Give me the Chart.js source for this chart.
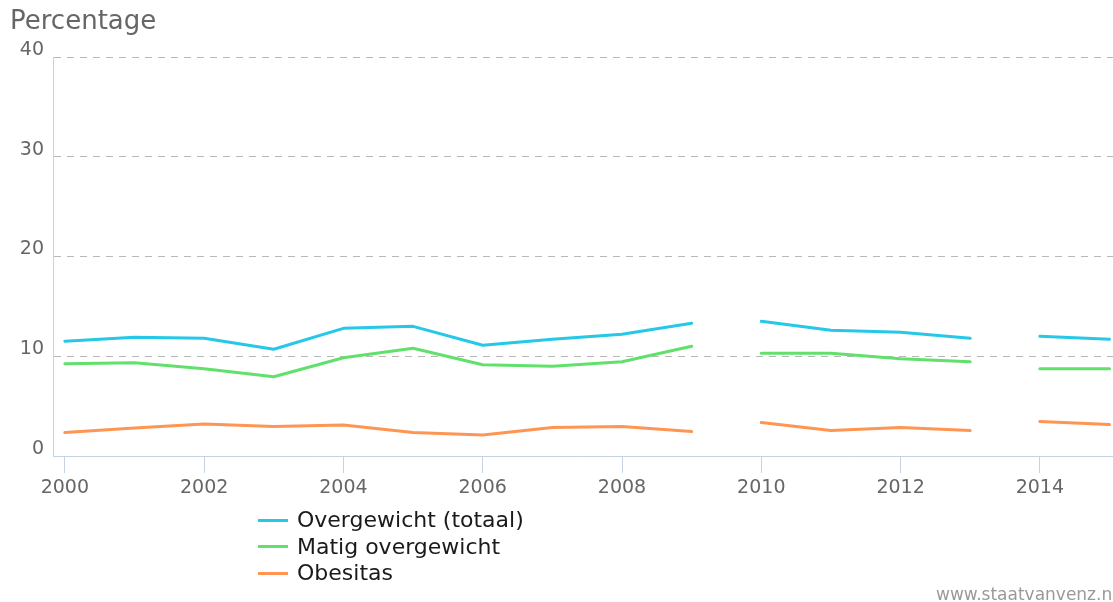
<!DOCTYPE html>
<html>
<head>
<meta charset="utf-8">
<script src="https://cdn.jsdelivr.net/npm/chart.js@4/dist/chart.umd.min.js"></script>
<style>
  html, body { margin: 0; padding: 0; background: #fff; overflow: hidden; }
  body { width: 1113px; height: 602px; position: relative; font-family: "DejaVu Sans", Verdana, sans-serif; }
  #wrap { position: absolute; left: 0; top: 0; width: 1113px; height: 602px; }
  #title { position: absolute; left: 10px; top: 4px; font-size: 26px; line-height: 32px; color: #666; }
  #legend { position: absolute; left: 258px; top: 507px; font-size: 22px; color: #1a1a1a; }
  #legend div { height: 26.5px; line-height: 26.5px; white-space: nowrap; }
  #legend span { display: inline-block; width: 30px; height: 3px; margin-right: 9px; vertical-align: middle; position: relative; top: -1px; }
  #credit { position: absolute; left: 936px; top: 584px; font-size: 17px; line-height: 20px; color: #999; white-space: nowrap; }
</style>
</head>
<body>
<div id="wrap"><canvas id="chart" width="1113" height="602"></canvas></div>
<div id="title">Percentage</div>
<div id="legend"></div>
<div id="credit">www.staatvanvenz.nl</div>
<script>
const years = [2000, 2001, 2002, 2003, 2004, 2005, 2006, 2007, 2008, 2009, 2010, 2011, 2012, 2013, 2014, 2015];
const overgewicht = [11.5, 11.9, 11.8, 10.7, 12.8, 13.0, 11.1, 11.7, 12.2, 13.3, 13.5, 12.6, 12.4, 11.8, 12.0, 11.7];
const matig = [9.25, 9.35, 8.75, 7.95, 9.85, 10.8, 9.15, 9.0, 9.45, 11.0, 10.3, 10.3, 9.75, 9.45, 8.75, 8.75];
const obesitas = [2.35, 2.8, 3.2, 2.95, 3.1, 2.35, 2.1, 2.85, 2.95, 2.45, 3.35, 2.55, 2.85, 2.55, 3.45, 3.15];
const breakAfter = [2009, 2013];
const xTicks = [2000, 2002, 2004, 2006, 2008, 2010, 2012, 2014];
const yTicks = [0, 10, 20, 30, 40];

const axisColor = "#c4d2e2";
const tickFont = { family: "DejaVu Sans", size: 19 };

function series(label, values, color) {
  return {
    label: label,
    data: years.map((x, i) => ({ x: x, y: values[i] })),
    borderColor: color,
    borderWidth: 3,
    pointRadius: 0,
    tension: 0,
    borderCapStyle: "round",
    borderJoinStyle: "round",
    segment: {
      // no line across the years where the series was interrupted
      borderColor: c => breakAfter.includes(c.p0.parsed.x) ? "transparent" : undefined
    }
  };
}

const chart = new Chart(document.getElementById("chart"), {
  type: "line",
  data: {
    datasets: [
      series("Overgewicht (totaal)", overgewicht, "#25c8e6"),
      series("Matig overgewicht", matig, "#62e06c"),
      series("Obesitas", obesitas, "#ff9552")
    ]
  },
  options: {
    responsive: false,
    animation: false,
    layout: { padding: { top: 57, right: 0, bottom: 96, left: 0 } },
    plugins: { legend: { display: false }, tooltip: { enabled: false } },
    scales: {
      x: {
        type: "linear",
        min: 1999.83,
        max: 2015.05,
        afterBuildTicks: s => { s.ticks = xTicks.map(v => ({ value: v })); },
        afterFit: s => { s.height = 50; },
        ticks: { font: tickFont, color: "#666", padding: 4, maxRotation: 0, callback: v => String(v) },
        grid: { drawOnChartArea: false, drawTicks: true, tickLength: 17, color: axisColor },
        border: { color: axisColor, width: 1 }
      },
      y: {
        min: 0,
        max: 40,
        afterBuildTicks: s => { s.ticks = yTicks.map(v => ({ value: v })); },
        afterFit: s => { s.width = 53; },
        ticks: { font: tickFont, color: "#666", padding: 9, labelOffset: -7 },
        grid: {
          drawTicks: false,
          color: c => c.tick && c.tick.value === 0 ? "transparent" : "#b8b8b8"
        },
        border: { color: axisColor, width: 1, dash: [7, 6] }
      }
    }
  }
});

const legend = document.getElementById("legend");
chart.data.datasets.forEach(d => {
  const row = document.createElement("div");
  const sw = document.createElement("span");
  sw.style.background = d.borderColor;
  row.appendChild(sw);
  row.appendChild(document.createTextNode(d.label));
  legend.appendChild(row);
});
</script>
</body>
</html>
